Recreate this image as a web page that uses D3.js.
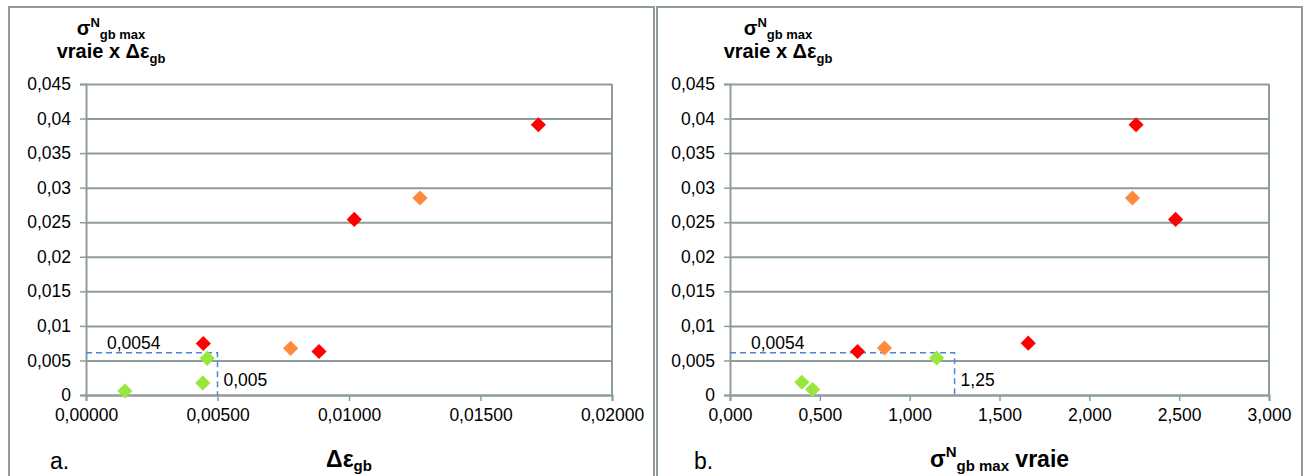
<!DOCTYPE html>
<html><head><meta charset="utf-8">
<script src="https://cdn.jsdelivr.net/npm/d3@7"></script>
<style>body{margin:0;background:#fff}svg{display:block;font-family:"Liberation Sans",Arial,sans-serif}</style>
</head><body><svg id="c" width="1308" height="476"></svg>
<script>
// ---- data ----
const colors = {red:"#FF0000", orange:"#FF8A3D", green:"#99E63C"};
// panel a: Δε_gb vs σ×Δε
const aX = [0.00148, 0.00444, 0.00461, 0.00446, 0.00778, 0.00886, 0.01020, 0.01270, 0.01720];
const aY = [0.00058, 0.00175, 0.00530, 0.00745, 0.00675, 0.00630, 0.02540, 0.02850, 0.03910];
const aC = ["green","green","green","red","orange","red","red","orange","red"];
// panel b: σ vraie vs σ×Δε
const bX = [0.460, 0.400, 1.150, 1.660, 0.860, 0.710, 2.480, 2.240, 2.260];
const bY = [0.00080, 0.00185, 0.00535, 0.00750, 0.00680, 0.00630, 0.02540, 0.02850, 0.03910];
const bC = ["green","green","green","red","orange","red","red","orange","red"];
const yTicks = [0,0.005,0.01,0.015,0.02,0.025,0.03,0.035,0.04,0.045];
const yTickLabels = ["0","0,005","0,01","0,015","0,02","0,025","0,03","0,035","0,04","0,045"];
const aXTicks = [0,0.005,0.01,0.015,0.02];
const aXTickLabels = ["0,00000","0,00500","0,01000","0,01500","0,02000"];
const bXTicks = [0,0.5,1,1.5,2,2.5,3];
const bXTickLabels = ["0,000","0,500","1,000","1,500","2,000","2,500","3,000"];
// reference guides
const aGuide = {x:0.005, y:0.0061, hLabel:"0,0054", vLabel:"0,005"};
const bGuide = {x:1.25, y:0.0061, hLabel:"0,0054", vLabel:"1,25"};

const svg = d3.select("#c");
const gridC = "#8E9C9B";
const FS = 17.5;
// panel borders
svg.append("rect").attr("x",9).attr("y",7).attr("width",645).attr("height",480)
  .attr("fill","none").attr("stroke",gridC).attr("stroke-width",2);
svg.append("rect").attr("x",657).attr("y",7).attr("width",645).attr("height",480)
  .attr("fill","none").attr("stroke",gridC).attr("stroke-width",2);

function panel(o){
  const x = d3.scaleLinear().domain(o.xDomain).range([o.x0,o.x1]);
  const y = d3.scaleLinear().domain([0,0.045]).range([395,84]);
  const g = svg.append("g");
  // gridlines
  g.append("g").attr("transform",`translate(${o.x0},0)`)
    .call(d3.axisLeft(y).tickValues(yTicks).tickSize(-(o.x1-o.x0)).tickFormat(""))
    .call(s=>s.select(".domain").remove())
    .call(s=>s.selectAll("line").attr("stroke",gridC).attr("stroke-width",2));
  // y axis with ticks + labels
  g.append("g").attr("transform",`translate(${o.x0},0)`)
    .call(d3.axisLeft(y).tickValues(yTicks).tickSize(6).tickPadding(9)
      .tickFormat((d,i)=>yTickLabels[i]))
    .call(s=>s.select(".domain").attr("stroke",gridC).attr("stroke-width",2))
    .call(s=>s.selectAll("line").attr("stroke",gridC).attr("stroke-width",1.5))
    .call(s=>s.selectAll("text").attr("font-size",FS).attr("fill","#000").attr("font-family","Liberation Sans, Arial"));
  // right border of plot
  g.append("line").attr("x1",o.x1).attr("x2",o.x1).attr("y1",84).attr("y2",395)
    .attr("stroke",gridC).attr("stroke-width",2);
  // x axis
  g.append("g").attr("transform","translate(0,395)")
    .call(d3.axisBottom(x).tickValues(o.xTicks).tickSize(6).tickPadding(8)
      .tickFormat((d,i)=>o.xTickLabels[i]))
    .call(s=>s.select(".domain").attr("stroke",gridC).attr("stroke-width",2))
    .call(s=>s.selectAll("line").attr("stroke",gridC).attr("stroke-width",1.5))
    .call(s=>s.selectAll("text").attr("font-size",FS).attr("fill","#000").attr("font-family","Liberation Sans, Arial"));
  // guides
  const gd = o.guide;
  g.append("path")
    .attr("d",`M${x(0)},${y(gd.y)}H${x(gd.x)}V${y(0)}`)
    .attr("fill","none").attr("stroke","#4F86D8").attr("stroke-width",1.5)
    .attr("stroke-dasharray","6,4");
  g.append("text").attr("x",x(0)+21).attr("y",y(gd.y)-4).attr("font-size",FS).text(gd.hLabel);
  g.append("text").attr("x",x(gd.x)+6).attr("y",y(0)-9).attr("font-size",FS).text(gd.vLabel);
  // points
  const sym = d3.symbol().type(d3.symbolSquare).size(115);
  g.selectAll("path.pt").data(o.xs).join("path").attr("class","pt")
    .attr("d",sym)
    .attr("transform",(d,i)=>`translate(${x(d)},${y(o.ys[i])}) rotate(45)`)
    .attr("fill",(d,i)=>colors[o.cs[i]]);
  // y title
  const t1 = g.append("text").attr("x",o.titleX).attr("y",35).attr("text-anchor","middle")
    .attr("font-weight","bold").attr("font-size",20);
  t1.append("tspan").text("σ");
  t1.append("tspan").attr("font-size",13).attr("dy",-8).text("N");
  t1.append("tspan").attr("font-size",13).attr("dy",12).text("gb max");
  const t2 = g.append("text").attr("x",o.titleX).attr("y",58).attr("text-anchor","middle")
    .attr("font-weight","bold").attr("font-size",20);
  t2.append("tspan").text("vraie x Δε");
  t2.append("tspan").attr("font-size",13).attr("dy",5).text("gb");
  // panel letter
  svg.append("text").attr("x",o.letterX).attr("y",469).attr("font-size",23).text(o.letter);
  // x title
  o.xTitle(svg.append("text").attr("x",(o.x0+o.x1)/2).attr("y",467).attr("text-anchor","middle")
    .attr("font-weight","bold").attr("font-size",23));
}

panel({x0:86,x1:612,xDomain:[0,0.02],xTicks:aXTicks,xTickLabels:aXTickLabels,
  xs:aX,ys:aY,cs:aC,guide:aGuide,titleX:111,letter:"a.",letterX:50,
  xTitle:t=>{t.append("tspan").text("Δε");t.append("tspan").attr("font-size",15).attr("dy",4).text("gb");}});
panel({x0:730,x1:1269,xDomain:[0,3],xTicks:bXTicks,xTickLabels:bXTickLabels,
  xs:bX,ys:bY,cs:bC,guide:bGuide,titleX:778,letter:"b.",letterX:694,
  xTitle:t=>{t.append("tspan").text("σ");t.append("tspan").attr("font-size",15).attr("dy",-10).text("N");
    t.append("tspan").attr("font-size",15).attr("dy",14).text("gb max");
    t.append("tspan").attr("dy",-4).text(" vraie");}});
</script></body></html>
